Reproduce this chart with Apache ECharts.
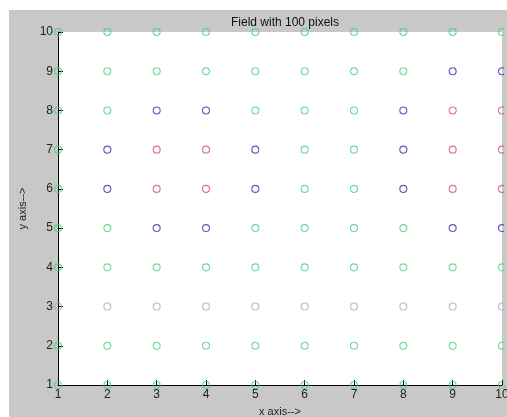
<!DOCTYPE html>
<html>
<head>
<meta charset="utf-8">
<script src="https://cdn.jsdelivr.net/npm/echarts@6/dist/echarts.min.js"></script>
<style>html,body{margin:0;padding:0;background:#fff;}#c{width:507px;height:417px;}</style>
</head>
<body>
<div id="c"></div>
<script>
// Field grid: x = 1..10, y = 1..10; each row lists the class of the pixel at x=1..10
const xValues = [1, 2, 3, 4, 5, 6, 7, 8, 9, 10];
const yValues = [1, 2, 3, 4, 5, 6, 7, 8, 9, 10];
const row1  = ['g','g','g','g','g','g','g','g','g','g'];
const row2  = ['g','g','g','g','g','g','g','g','g','g'];
const row3  = ['c','c','c','c','c','c','c','c','c','c'];
const row4  = ['g','g','g','g','g','g','g','g','g','g'];
const row5  = ['g','g','b','b','g','g','g','g','b','b'];
const row6  = ['g','b','r','r','b','g','g','b','r','r'];
const row7  = ['g','b','r','r','b','g','g','b','r','r'];
const row8  = ['g','g','b','b','g','g','g','b','r','r'];
const row9  = ['g','g','g','g','g','g','g','g','b','b'];
const row10 = ['g','g','g','g','g','g','g','g','g','g'];
const rows = [row1,row2,row3,row4,row5,row6,row7,row8,row9,row10];
const classes = ['g','c','b','r'];
const classColors = {g:'#4ccf7c', c:'#98b4b6', b:'#3434a8', r:'#d4507a'};
const xTicks = [1,2,3,4,5,6,7,8,9,10];
const yTicks = [1,2,3,4,5,6,7,8,9,10];

const series = classes.map(cls => {
  const data = [];
  rows.forEach((row, ri) => {
    row.forEach((v, xi) => { if (v === cls) data.push([xValues[xi], yValues[ri]]); });
  });
  return {
    type: 'scatter', data: data, symbol: 'circle', symbolSize: 7, clip: false,
    itemStyle: {color: 'rgba(0,0,0,0)', borderColor: classColors[cls], borderWidth: 1.1},
    emphasis: {disabled: true}, silent: true, z: 3
  };
});

const chart = echarts.init(document.getElementById('c'), null, {renderer: 'canvas'});
const font = '"Liberation Sans", Arial, sans-serif';
chart.setOption({
  animation: false,
  backgroundColor: '#ffffff',
  graphic: [
    {type: 'rect', shape: {x: 9, y: 10, width: 498, height: 407}, style: {fill: '#c8c8c8'}, z: -10, silent: true},
    {type: 'rect', shape: {x: 504, y: 10, width: 3, height: 375}, style: {fill: '#c8c8c8'}, z: 100, silent: true}
  ],
  title: {
    text: 'Field with 100 pixels', left: 280, top: 12, textAlign: 'center',
    textStyle: {fontFamily: font, fontSize: 12, fontWeight: 'normal', color: '#111'}
  },
  grid: {left: 58, top: 32, width: 444, height: 353, show: true, backgroundColor: '#ffffff', borderWidth: 0,
    outerBoundsMode: 'none', containLabel: false},
  xAxis: {
    type: 'value', min: 1, max: 10, interval: 1,
    name: 'x axis-->', nameLocation: 'middle', nameGap: 21,
    nameTextStyle: {fontFamily: font, fontSize: 11, color: '#222'},
    axisLine: {show: true, onZero: false, lineStyle: {color: '#000', width: 1}},
    axisTick: {show: true, inside: true, length: 5, lineStyle: {color: '#000'}},
    axisLabel: {fontFamily: font, fontSize: 12, color: '#222', margin: 4,
      formatter: v => xTicks.includes(v) ? String(v) : ''},
    splitLine: {show: false}
  },
  yAxis: {
    type: 'value', min: 1, max: 10, interval: 1,
    name: 'y axis-->', nameLocation: 'middle', nameGap: 29,
    nameTextStyle: {fontFamily: font, fontSize: 11, color: '#222'},
    axisLine: {show: true, onZero: false, lineStyle: {color: '#000', width: 1}},
    axisTick: {show: true, inside: true, length: 5, lineStyle: {color: '#000'}},
    axisLabel: {fontFamily: font, fontSize: 12, color: '#222', margin: 5,
      formatter: v => yTicks.includes(v) ? String(v) : ''},
    splitLine: {show: false}
  },
  series: series
});
</script>
</body>
</html>
